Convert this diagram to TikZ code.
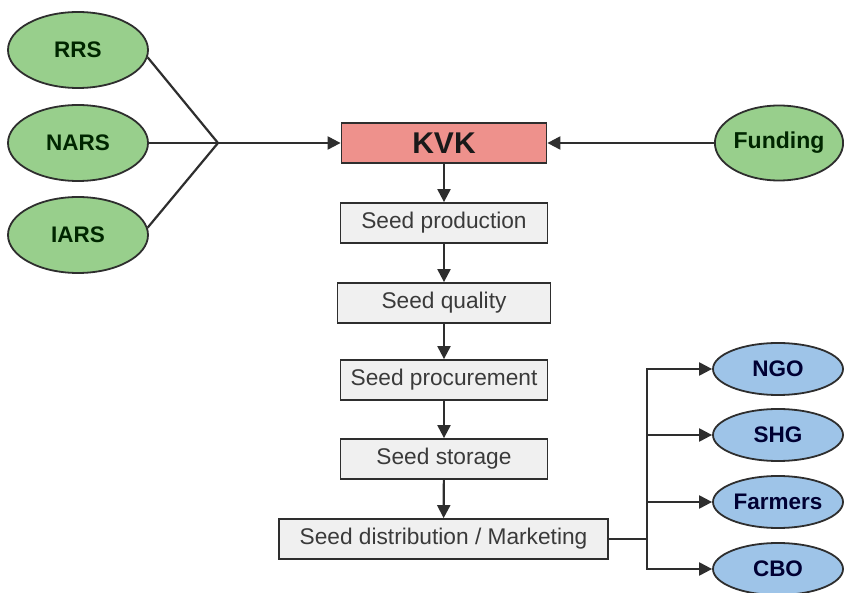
\documentclass[tikz,border=0pt]{standalone}
\usepackage{fontspec}
\setmainfont{Liberation Sans}
\usetikzlibrary{arrows.meta,shapes.geometric}
\definecolor{ellgreen}{HTML}{98CF8C}
\definecolor{ellblue}{HTML}{9EC4E8}
\definecolor{kvkred}{HTML}{EE918C}
\definecolor{boxgray}{HTML}{F0F0F0}
\definecolor{edge}{HTML}{2E2E2E}
\definecolor{txtgray}{HTML}{3A3A3A}
\tikzset{
  gell/.style={ellipse, draw=edge, line width=1.8pt, fill=ellgreen, inner sep=0pt,
    minimum width=140pt, minimum height=76pt, text=black!85!green,
    font=\fontsize{22.5}{26}\selectfont\bfseries},
  bell/.style={ellipse, draw=edge, line width=1.8pt, fill=ellblue, inner sep=0pt,
    minimum width=130pt, minimum height=52pt, text=black!80!blue,
    font=\fontsize{22.5}{26}\selectfont\bfseries},
  stepbox/.style={rectangle, draw=edge, line width=1.8pt, fill=boxgray, inner sep=0pt,
    minimum width=207pt, minimum height=40pt, text=txtgray,
    font=\fontsize{22.7}{26}\selectfont},
  kvkbox/.style={rectangle, draw=edge, line width=1.8pt, fill=kvkred, inner sep=0pt,
    minimum width=205pt, minimum height=40pt, text=black!90,
    font=\fontsize{30}{34}\selectfont\bfseries},
  conn/.style={draw=edge, line width=2.2pt},
  arr/.style={conn, -{Triangle[length=13pt,width=13pt]}},
}
\begin{document}
\begin{tikzpicture}[x=1pt,y=-1pt]
\useasboundingbox (0,0) rectangle (844,593);
\fill[white] (0,0) rectangle (844,593);
% left ellipses
\node[gell] (RRS) at (78,50) {RRS};
\node[gell] (NARS) at (78,143) {NARS};
\node[gell] (IARS) at (78,235) {IARS};
\node[gell, minimum width=128pt, minimum height=75pt, font=\fontsize{23}{26}\selectfont\bfseries] (FUND) at (779,143) {Funding};
% central chain
\node[kvkbox] (KVK) at (444,143) {KVK};
\node[stepbox] (SP) at (444,223) {Seed production};
\node[stepbox, minimum width=213pt] (SQ) at (444,303) {Seed quality};
\node[stepbox] (SPR) at (444,380) {Seed procurement};
\node[stepbox] (SS) at (444,459) {Seed storage};
\node[stepbox, minimum width=329pt] (SD) at (443.5,539) {Seed distribution / Marketing};
% right ellipses
\node[bell] (NGO) at (778,369) {NGO};
\node[bell] (SHG) at (778,435) {SHG};
\node[bell] (FAR) at (778,502) {Farmers};
\node[bell] (CBO) at (778,569) {CBO};
% junctions
\coordinate (J) at (218,143);
\coordinate (B0) at (647,539);
\coordinate (B1) at (647,369);
\coordinate (B2) at (647,435);
\coordinate (B3) at (647,502);
\coordinate (B4) at (647,569);
% connectors
\draw[conn] (RRS.-6) -- (J);
\draw[conn] (NARS.east) -- (J);
\draw[conn] (IARS.6) -- (J);
\draw[arr] (J) -- (KVK.west);
\draw[arr] (FUND.west) -- (KVK.east);
\draw[arr] (KVK) -- (SP);
\draw[arr] (SP) -- (SQ);
\draw[arr] (SQ) -- (SPR);
\draw[arr] (SPR) -- (SS);
\draw[arr] (SS) -- (SD);
\draw[conn] (SD.east) -- (B0);
\draw[conn, line cap=rect] (B1) -- (B4);
\draw[arr] (B1) -- (NGO.west);
\draw[arr] (B2) -- (SHG.west);
\draw[arr] (B3) -- (FAR.west);
\draw[arr] (B4) -- (CBO.west);
\end{tikzpicture}
\end{document}
